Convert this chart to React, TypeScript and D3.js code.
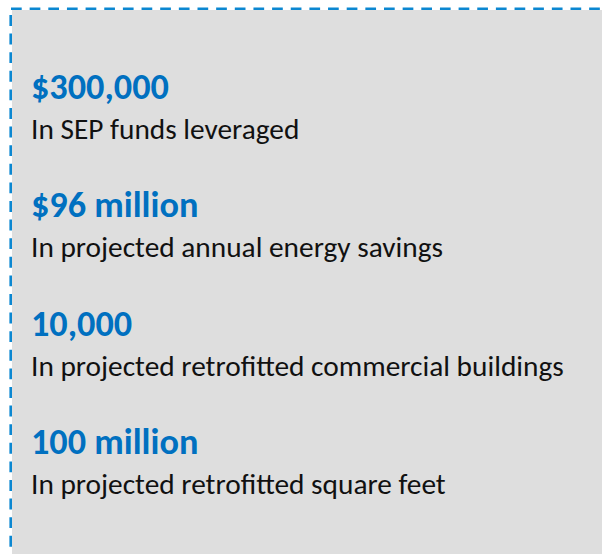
import React, { useEffect, useRef } from 'react';
import * as d3 from 'd3';

const figures = ['$300,000', '$96 million', '10,000', '100 million'];
const captions = [
  'In SEP funds leveraged',
  'In projected annual energy savings',
  'In projected retrofitted commercial buildings',
  'In projected retrofitted square feet',
];

const W = 602;
const H = 554;
const FONT = 'Calibri, Carlito, "Open Sans", sans-serif';

export default function App() {
  const ref = useRef<SVGSVGElement>(null);
  useEffect(() => {
    const svg = d3.select(ref.current);
    svg.selectAll('*').remove();
    svg.append('rect').attr('x', 12).attr('y', 10).attr('width', W - 12).attr('height', H - 10).attr('fill', '#dedede');
    svg.append('line').attr('x1', 11).attr('y1', 8.7).attr('x2', W).attr('y2', 8.7)
      .attr('stroke', '#0b87d1').attr('stroke-width', 2.6).attr('stroke-dasharray', '10.7 7.95');
    svg.append('line').attr('x1', 10.7).attr('y1', 15).attr('x2', 10.7).attr('y2', H)
      .attr('stroke', '#0b87d1').attr('stroke-width', 2.6).attr('stroke-dasharray', '10.9 7.7');

    const y = d3.scalePoint<string>().domain(figures).range([99, 454]);

    const fig = svg.selectAll('text.fig').data(figures).join('text')
      .attr('class', 'fig')
      .attr('x', 31).attr('y', d => y(d) as number)
      .attr('font-family', FONT).attr('font-weight', 700)
      .attr('font-size', 34).attr('fill', '#0070c0').text(d => d);
    const n0 = (fig.nodes()[0] as SVGTextElement).getComputedTextLength();
    fig.attr('font-size', 34 * 138 / n0);

    const cap = svg.selectAll('text.cap').data(captions).join('text')
      .attr('class', 'cap')
      .attr('x', 31).attr('y', (d, i) => (y(figures[i]) as number) + 40)
      .attr('font-family', FONT).attr('font-weight', 400)
      .attr('font-size', 26).attr('fill', '#111').text(d => d);
    const c2 = (cap.nodes()[2] as SVGTextElement).getComputedTextLength();
    cap.attr('font-size', 26 * 533 / c2);
  }, []);
  return (
    <svg ref={ref} width={W} height={H} style={{ position: 'absolute', left: 0, top: 0, display: 'block' }} />
  );
}
